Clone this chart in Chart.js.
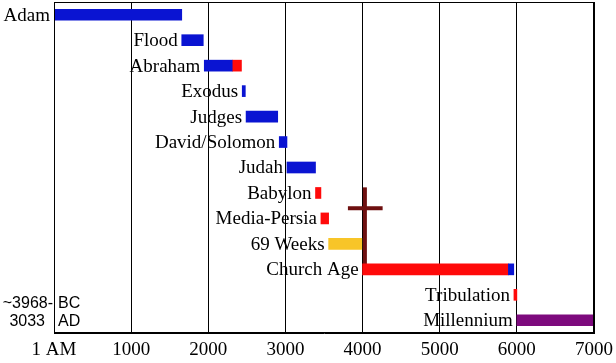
<!DOCTYPE html>
<html>
<head>
<meta charset="utf-8">
<script src="https://cdn.jsdelivr.net/npm/chart.js@4"></script>
<style>
  html, body { margin: 0; padding: 0; background: #fff; }
  #wrap { width: 616px; height: 363px; position: relative; }
</style>
</head>
<body>
<div id="wrap"><canvas id="timeline"></canvas></div>
<script>
// categories (one row each, top to bottom)
const periods = ['Adam', 'Flood', 'Abraham', 'Exodus', 'Judges', 'David/Solomon', 'Judah',
  'Babylon', 'Media-Persia', '69 Weeks', 'Church Age', 'Tribulation', 'Millennium'];

// [start, end] in years after creation (AM)
const blueSpans = [[0, 1656], [1656, 1935], [1948, 2310], [2440, 2480], [2490, 2900],
  [2920, 3020], [3020, 3390], null, null, null, [5890, 5960], null, null];
const redSpans = [null, null, [2310, 2430], null, null, null, null,
  [3390, 3460], [3460, 3560], null, [4000, 5890], [5962, 6000], null];
const goldSpans = [null, null, null, null, null, null, null, null, null, [3560, 3990], null, null, null];
const purpleSpans = [null, null, null, null, null, null, null, null, null, null, null, null, [6000, 7000]];

// x axis ticks
const yearTicks = [0, 1000, 2000, 3000, 4000, 5000, 6000, 7000];

// cross: upright year, arm from/to years, row positions (index units)
const crossYear = 4030;
const crossArm = [3810, 4260];
const crossRows = [6.78, 7.6, 10];

document.addEventListener("DOMContentLoaded", function () {

    const serif = "'Liberation Serif', 'Times New Roman', serif";

    const boxPlugin = {
        id: 'box',
        beforeDatasetsDraw(chart) {
            const ctx = chart.ctx;
            const x = chart.scales.x;
            const y = chart.scales.y;
            // the cross
            ctx.save();
            ctx.fillStyle = '#6e1010';
            const cx = x.getPixelForValue(crossYear);
            const top = y.getPixelForValue(crossRows[0]);
            const bottom = y.getPixelForValue(crossRows[2]);
            ctx.fillRect(cx - 2, top, 4, bottom - top);
            const ay = y.getPixelForValue(crossRows[1]);
            const ax1 = x.getPixelForValue(crossArm[0]);
            const ax2 = x.getPixelForValue(crossArm[1]);
            ctx.fillRect(ax1, ay - 2, ax2 - ax1, 4);
            ctx.restore();
        },
        afterDatasetsDraw(chart) {
            const ctx = chart.ctx;
            const area = chart.chartArea;
            const x = chart.scales.x;
            const y = chart.scales.y;
            ctx.save();
            // period labels to the left of each bar
            ctx.font = '19px ' + serif;
            ctx.fillStyle = '#000';
            ctx.textAlign = 'right';
            ctx.textBaseline = 'middle';
            periods.forEach(function (name, i) {
                let start = Infinity;
                [blueSpans, redSpans, goldSpans, purpleSpans].forEach(function (s) {
                    if (s[i]) start = Math.min(start, s[i][0]);
                });
                ctx.fillText(name, x.getPixelForValue(start) - 4, y.getPixelForValue(i) + 1);
            });

            // frame
            ctx.strokeStyle = '#000';
            ctx.lineWidth = 1;
            ctx.strokeRect(Math.round(area.left) + 0.5, Math.round(area.top) + 0.5,
                Math.round(area.right - area.left) - 1, Math.round(area.bottom - area.top) - 1);

            // BC / AD note
            ctx.font = "16px 'Liberation Sans', Arial, sans-serif";
            ctx.textAlign = 'right';
            ctx.fillText('~3968-', area.left - 1, 304);
            ctx.fillText('3033', area.left - 9, 322);
            ctx.textAlign = 'left';
            ctx.fillText('BC', area.left + 4, 304);
            ctx.fillText('AD', area.left + 4, 322);
            ctx.restore();
        }
    };

    const barBase = { grouped: false, barThickness: 11, borderWidth: 0 };

    const config = {
        type: 'bar',
        data: {
            labels: periods,
            datasets: [
                Object.assign({ label: 'blue', data: blueSpans, backgroundColor: '#0a14d2' }, barBase),
                Object.assign({ label: 'red', data: redSpans, backgroundColor: '#ff0a0a' }, barBase),
                Object.assign({ label: 'gold', data: goldSpans, backgroundColor: '#f8c528' }, barBase),
                Object.assign({ label: 'purple', data: purpleSpans, backgroundColor: '#7d0a7d' }, barBase)
            ]
        },
        options: {
            indexAxis: 'y',
            responsive: true,
            maintainAspectRatio: false,
            animation: false,
            layout: { padding: { left: 54, right: 22, top: 2, bottom: 0 } },
            plugins: {
                legend: { display: false },
                tooltip: { enabled: false }
            },
            scales: {
                x: {
                    type: 'linear',
                    min: 0,
                    max: 7000,
                    afterBuildTicks: function (axis) {
                        axis.ticks = yearTicks.map(function (v) { return { value: v }; });
                    },
                    afterFit: function (axis) {
                        axis.height = 30;
                        axis.paddingLeft = 0;
                        axis.paddingRight = 0;
                    },
                    grid: { color: '#000', lineWidth: 1, drawTicks: false },
                    border: { color: '#000' },
                    ticks: {
                        padding: 6,
                        color: '#000',
                        font: { family: serif, size: 19 },
                        callback: function (v) { return v === 0 ? '1 AM' : String(v); }
                    }
                },
                y: {
                    display: false
                }
            }
        },
        plugins: [boxPlugin]
    };

    new Chart(document.getElementById('timeline'), config);
});
</script>
</body>
</html>
